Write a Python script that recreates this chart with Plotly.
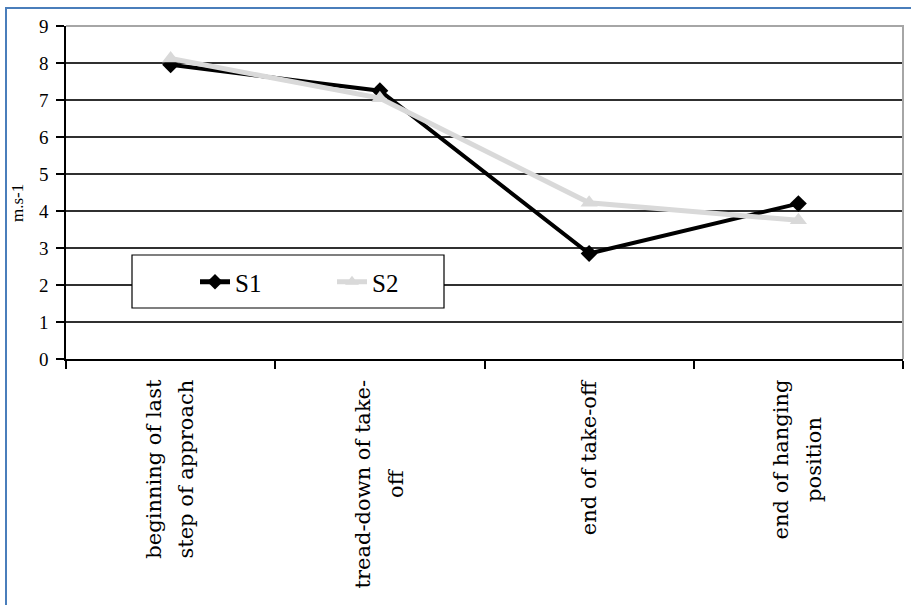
import plotly.graph_objects as go

categories = ["beginning of last step of approach", "tread-down of take-off",
              "end of take-off", "end of hanging position"]
tick_labels = ["beginning of last<br>step of approach", "tread-down of take-<br>off",
               "end of take-off", "end of hanging<br>position"]
s1_values = [7.95, 7.25, 2.85, 4.2]
s2_values = [8.12, 7.05, 4.22, 3.75]
series_names = ["S1", "S2"]
y_ticks = list(range(0, 10))

W, H = 911, 605
L, R, T, B = 66, 8, 26, 246
pw, ph = W - L - R, H - T - B

def px_x(p):
    return (p - L) / pw

def px_y(p):
    return (H - B - p) / ph

fig = go.Figure()
fig.add_trace(go.Scatter(
    x=categories, y=s1_values, name=series_names[0], mode="lines+markers",
    line=dict(color="#000000", width=4),
    marker=dict(symbol="diamond", size=13, color="#000000"),
))
fig.add_trace(go.Scatter(
    x=categories, y=s2_values, name=series_names[1], mode="lines+markers",
    line=dict(color="#d9d9d9", width=5),
    marker=dict(symbol="triangle-up", size=15, color="#d9d9d9"),
))

annotations = []
for cat, lab in zip(categories, tick_labels):
    annotations.append(dict(
        x=cat, xref="x", y=px_y(377), yref="paper",
        text='<span style="font-size:21px">' + lab + "</span>",
        textangle=-90, xanchor="center", yanchor="top", align="center",
        showarrow=False,
        font=dict(family="DejaVu Serif", size=25, color="#000000"),
    ))
annotations.append(dict(
    x=px_x(17), xref="paper", y=px_y(203), yref="paper",
    text="m.s-1", textangle=-90, showarrow=False,
    xanchor="center", yanchor="middle",
    font=dict(family="Liberation Serif", size=17, color="#000000"),
))

shapes = [
    # outer blue frame
    dict(type="rect", xref="paper", yref="paper",
         x0=px_x(6), x1=px_x(960), y0=px_y(660), y1=px_y(8),
         line=dict(color="#4a7ebb", width=2), fillcolor="rgba(0,0,0,0)", layer="below"),
    # gray top/right plot border
    dict(type="path", xref="paper", yref="paper",
         path="M 0,1 L 1,1 L 1,0", line=dict(color="#a6a6a6", width=2), layer="above"),
    # legend box
    dict(type="rect", xref="paper", yref="paper",
         x0=px_x(132), x1=px_x(444), y0=px_y(308), y1=px_y(255),
         line=dict(color="#000000", width=1.2), fillcolor="#ffffff", layer="above"),
]

fig.update_layout(
    width=W, height=H,
    margin=dict(l=L, r=R, t=T, b=B, autoexpand=False),
    paper_bgcolor="#ffffff", plot_bgcolor="#ffffff",
    font=dict(family="Liberation Serif", color="#000000"),
    showlegend=True,
    legend=dict(
        orientation="h", x=px_x(195), y=px_y(282), xanchor="left", yanchor="middle",
        bgcolor="rgba(0,0,0,0)", borderwidth=0,
        font=dict(family="Liberation Serif", size=25, color="#000000"),
        entrywidth=92, entrywidthmode="pixels", itemsizing="constant",
    ),
    xaxis=dict(
        type="category", categoryorder="array", categoryarray=categories,
        range=[-0.5, 3.5], showticklabels=False, showgrid=False,
        ticks="outside", tickson="boundaries", ticklen=8, tickwidth=1.5, tickcolor="#000000",
        showline=True, linecolor="#000000", linewidth=1.5, zeroline=False, fixedrange=True,
    ),
    yaxis=dict(
        range=[0, 9], tickvals=y_ticks, ticktext=[str(v) for v in y_ticks],
        showgrid=True, gridcolor="#303030", gridwidth=1.5,
        ticks="outside", ticklen=8, tickwidth=1.5, tickcolor="#000000",
        showline=True, linecolor="#000000", linewidth=1.5, zeroline=False,
        tickfont=dict(family="Liberation Serif", size=19, color="#000000"),
        ticklabelstandoff=4, fixedrange=True,
    ),
    shapes=shapes,
    annotations=annotations,
)

fig.write_html(
    "out.html",
    config={"displayModeBar": False},
    post_script="document.body.style.margin='0';document.body.style.overflow='hidden';",
)
